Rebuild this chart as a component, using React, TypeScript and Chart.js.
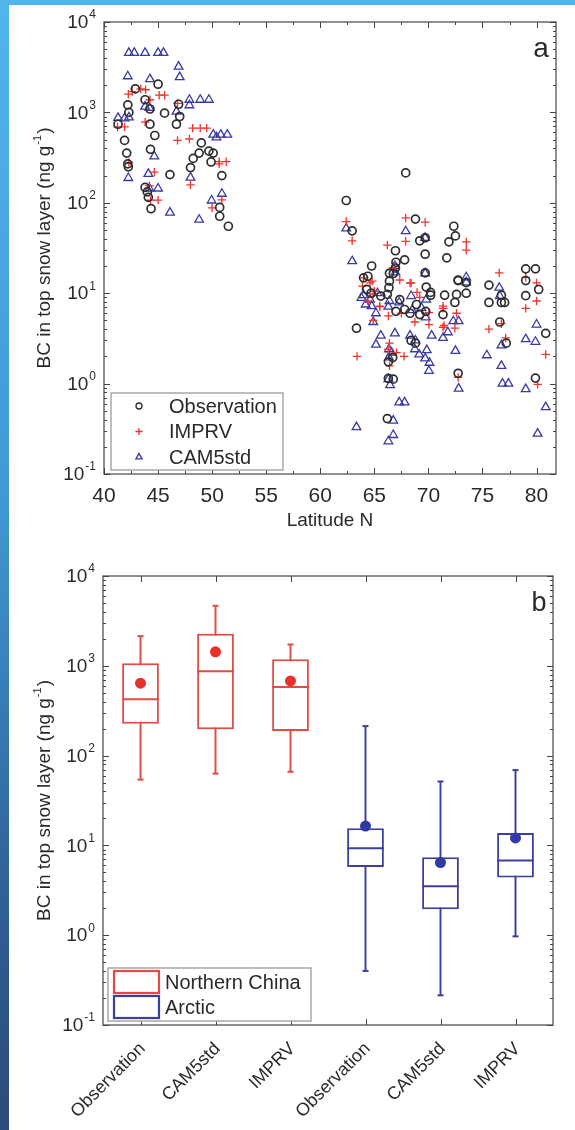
import React, { useEffect, useRef } from 'react';
import { Chart, registerables } from 'chart.js';

Chart.register(...registerables);

const FONT = '"Liberation Sans", Arial, Helvetica, sans-serif';
const TEXT = '#2a2a2a';
const FRAME = '#6a6a6a';
const TICK = '#444444';

// ---------------- Panel a: scatter (latitude, BC ng/g) ----------------
const observation: [number, number][] = [
  [42.9, 1820], [45.0, 2050], [42.2, 1210], [43.8, 1380], [42.3, 1000], [44.25, 1090], [45.6, 980],
  [46.9, 1230], [41.3, 740], [44.25, 740], [46.7, 740], [47.0, 900], [44.7, 555], [41.9, 490],
  [49.0, 460], [42.1, 355], [44.3, 390], [48.8, 355], [48.25, 310], [49.7, 373], [50.1, 355],
  [42.25, 250], [42.2, 270], [48.0, 245], [49.9, 283], [46.1, 205], [50.9, 200], [43.8, 148],
  [44.0, 132], [44.1, 115], [44.35, 86], [50.7, 89], [50.7, 71], [51.5, 55],
  [67.9, 214], [62.4, 106], [62.95, 49], [68.8, 66], [69.2, 38], [66.95, 29.5], [69.7, 41],
  [72.35, 55], [72.5, 43], [71.9, 37], [71.7, 24.6], [69.7, 27], [64.75, 20], [67.0, 22],
  [66.95, 19], [66.75, 16.5], [69.7, 16.8], [64.0, 14.8], [64.4, 15.4], [66.4, 13.6], [66.35, 11.5],
  [69.8, 11.7], [70.2, 10.2], [72.75, 13.8], [73.5, 13.1], [64.3, 11.0], [64.7, 10], [65.6, 9.3],
  [66.2, 9.7], [71.5, 9.5], [72.6, 9.7], [73.5, 10], [70.2, 9.5], [67.35, 8.5], [67.8, 6.6],
  [67.0, 6.3], [68.3, 6.0], [68.9, 7.5], [69.2, 5.8], [69.75, 6.3], [71.35, 5.8], [72.45, 7.9],
  [63.35, 4.1], [68.4, 3.0], [68.8, 2.8], [66.3, 1.74], [66.7, 1.94], [66.3, 1.14], [66.75, 1.12],
  [72.75, 1.3], [66.2, 0.41], [75.6, 12.3], [75.6, 7.9], [76.75, 7.9], [77.05, 7.9], [76.75, 9.5],
  [76.6, 4.8], [77.2, 2.8], [79.0, 18.6], [79.9, 18.6], [79.0, 13.8], [79.0, 9.4], [80.2, 11.0],
  [80.85, 3.6], [79.9, 1.15], [72.75, 14], [66.4, 16.6], [67.8, 23.4]
];

const imprv: [number, number][] = [
  [42.25, 1590], [42.6, 1700], [43.4, 1820], [43.85, 1780], [45.1, 1550], [45.6, 1550], [44.25, 1380],
  [46.8, 1260], [41.25, 690], [41.9, 690], [43.8, 780], [48.2, 670], [48.9, 670], [49.5, 670],
  [46.8, 490], [47.9, 508], [50.65, 285], [51.3, 285], [50.65, 270], [42.3, 280], [44.65, 218],
  [48.0, 158], [44.2, 155], [44.3, 107], [45.0, 107], [50.9, 108], [50.0, 88],
  [62.4, 62], [62.95, 38], [66.2, 34], [67.9, 68], [67.9, 37.5], [69.7, 61], [73.5, 37], [73.5, 30],
  [76.55, 16.8], [79.0, 15], [80.0, 13], [80.0, 8.2], [79.0, 6.8], [64.0, 14.8], [64.6, 13],
  [66.7, 19], [67.35, 14], [68.4, 13], [68.95, 10.2], [65.5, 7.1], [66.3, 5.6], [67.5, 6.0],
  [68.75, 4.8], [70.05, 4.5], [70.05, 6.1], [71.35, 6.8], [71.45, 4.4], [72.45, 4.1], [72.6, 6.0],
  [64.9, 5.0], [64.4, 8.2], [64.8, 13.6], [63.4, 2.0], [66.4, 2.8], [67.05, 2.2], [67.75, 2.0],
  [66.4, 1.57], [72.75, 1.17], [75.6, 4.0], [76.75, 4.6], [77.15, 3.2], [80.1, 0.98], [80.85, 2.1],
  [64.9, 9.8], [65.5, 7.2], [68.3, 12.9], [71.35, 7.2], [71.35, 4.2], [63.9, 12], [65.0, 10.5],
  [69.2, 9], [66.3, 2.4]
];

const cam5std: [number, number][] = [
  [42.3, 4550], [42.8, 4550], [43.8, 4550], [45.0, 4550], [45.5, 4550], [46.9, 3210], [42.2, 2510],
  [47.0, 2460], [44.25, 2330], [43.8, 1160], [44.2, 1120], [47.9, 1380], [47.9, 1200], [48.9, 1380],
  [49.7, 1380], [46.7, 1020], [41.3, 870], [41.9, 860], [42.3, 880], [50.1, 567], [50.8, 567],
  [51.4, 567], [50.4, 530], [44.65, 326], [42.25, 188], [44.1, 209], [48.0, 190], [44.2, 144],
  [45.0, 144], [50.9, 126], [49.95, 106], [46.1, 78], [48.8, 65],
  [62.4, 52], [62.95, 22.6], [67.9, 48.5], [69.7, 41], [66.95, 17], [69.7, 16.6], [73.5, 15],
  [73.5, 13.2], [76.55, 11.5], [63.8, 8.9], [64.6, 8.5], [64.75, 7.2], [64.9, 4.8], [66.4, 8.2],
  [67.3, 7.9], [68.4, 9.3], [69.35, 6.9], [69.75, 5.4], [66.3, 7.1], [65.6, 3.4], [65.15, 2.7],
  [66.9, 3.6], [66.35, 2.4], [66.6, 2.2], [66.35, 1.95], [68.3, 3.4], [68.8, 3.0], [68.75, 2.4],
  [69.15, 2.1], [69.85, 2.35], [69.7, 1.9], [70.1, 1.7], [70.05, 1.38], [70.3, 3.4], [71.35, 3.2],
  [71.8, 3.7], [72.5, 2.3], [72.8, 0.88], [72.3, 4.9], [72.8, 4.9], [66.45, 0.96], [66.3, 1.12],
  [67.3, 0.62], [67.8, 0.62], [66.75, 0.39], [66.75, 0.27], [66.3, 0.23], [63.35, 0.33], [75.4, 2.06],
  [76.75, 2.65], [76.75, 1.57], [76.85, 1.0], [77.4, 1.0], [79.0, 3.1], [80.0, 4.5], [79.9, 2.9],
  [79.0, 0.87], [80.85, 0.55], [80.1, 0.28], [76.6, 9.3], [65.15, 6.0], [64.0, 9.5], [64.2, 7.5],
  [66.9, 20], [68.5, 6.5], [65.3, 10], [69.8, 8.5]
];

const latTicks = [40, 45, 50, 55, 60, 65, 70, 75, 80];
const decadeExps = [-1, 0, 1, 2, 3, 4];
const seriesNames = ['Observation', 'IMPRV', 'CAM5std'];
const seriesColors = ['#2e2e2e', '#f0342c', '#3a3aa6'];
const seriesStyles = ['circle', 'cross', 'triangle'];

// ---------------- Panel b: box plots ----------------
const boxLabels = ['Observation', 'CAM5std', 'IMPRV', 'Observation', 'CAM5std', 'IMPRV'];
const boxRegion = ['Northern China', 'Northern China', 'Northern China', 'Arctic', 'Arctic', 'Arctic'];
const boxLow = [54, 63, 66, 0.4, 0.214, 0.97];
const boxQ1 = [227, 196, 188, 5.75, 1.95, 4.4];
const boxMedian = [424, 870, 582, 9.3, 3.5, 6.8];
const boxQ3 = [1070, 2270, 1186, 15.5, 7.4, 13.7];
const boxHigh = [2140, 4660, 1727, 213, 51.5, 69];
const boxMean = [640, 1430, 679, 16.4, 6.45, 12.1];
const regionNames = ['Northern China', 'Arctic'];
const regionLine = ['#e34a42', '#3d3f9e'];
const regionDot = ['#e8302a', '#2f3ba2'];

// ---------------- drawing helpers ----------------
function font(size: number) {
  return `${size}px ${FONT}`;
}

function powerLabel(ctx: CanvasRenderingContext2D, xRight: number, y: number, exp: string) {
  ctx.font = font(19);
  const wb = ctx.measureText('10').width;
  ctx.font = font(12);
  const we = ctx.measureText(exp).width;
  const x0 = xRight - wb - we - 1;
  ctx.textAlign = 'left';
  ctx.textBaseline = 'middle';
  ctx.font = font(19);
  ctx.fillText('10', x0, y + 1);
  ctx.font = font(12);
  ctx.fillText(exp, x0 + wb + 1, y - 7);
}

function drawLogAxis(ctx: CanvasRenderingContext2D, chart: any) {
  const ys = chart.scales.y;
  const { left, right } = chart.chartArea;
  ctx.save();
  ctx.strokeStyle = TICK;
  ctx.lineWidth = 1;
  ctx.beginPath();
  for (const e of decadeExps) {
    for (let k = 1; k <= 9; k++) {
      const v = k * Math.pow(10, e);
      if (v < ys.min * 0.999 || v > ys.max * 1.001) continue;
      const y = Math.round(ys.getPixelForValue(v)) + 0.5;
      const len = k === 1 ? 6 : 3;
      ctx.moveTo(left, y);
      ctx.lineTo(left + len, y);
      ctx.moveTo(right, y);
      ctx.lineTo(right - len, y);
    }
  }
  ctx.stroke();
  ctx.fillStyle = TEXT;
  for (const e of decadeExps) {
    const y = ys.getPixelForValue(Math.pow(10, e));
    powerLabel(ctx, left - 8, y, String(e));
  }
  ctx.restore();
}

function drawYTitle(ctx: CanvasRenderingContext2D, cx: number, cy: number) {
  const p1 = 'BC in top snow layer (ng g';
  const sup = '-1';
  const p2 = ')';
  ctx.save();
  ctx.translate(cx, cy);
  ctx.rotate(-Math.PI / 2);
  ctx.fillStyle = TEXT;
  ctx.textBaseline = 'middle';
  ctx.textAlign = 'left';
  ctx.font = font(19);
  const w1 = ctx.measureText(p1).width;
  const w3 = ctx.measureText(p2).width;
  ctx.font = font(11);
  const w2 = ctx.measureText(sup).width;
  const start = -(w1 + w2 + w3 + 2) / 2;
  ctx.font = font(19);
  ctx.fillText(p1, start, 0);
  ctx.font = font(11);
  ctx.fillText(sup, start + w1 + 1, -7);
  ctx.font = font(19);
  ctx.fillText(p2, start + w1 + w2 + 2, 0);
  ctx.restore();
}

function drawFrame(ctx: CanvasRenderingContext2D, chart: any) {
  const { left, right, top, bottom } = chart.chartArea;
  ctx.save();
  ctx.strokeStyle = FRAME;
  ctx.lineWidth = 1.5;
  ctx.strokeRect(left, top, right - left, bottom - top);
  ctx.restore();
}

function drawMarker(ctx: CanvasRenderingContext2D, style: string, x: number, y: number, r: number) {
  ctx.beginPath();
  if (style === 'circle') {
    ctx.arc(x, y, r, 0, Math.PI * 2);
  } else if (style === 'cross') {
    ctx.moveTo(x - r, y);
    ctx.lineTo(x + r, y);
    ctx.moveTo(x, y - r);
    ctx.lineTo(x, y + r);
  } else {
    for (let i = 0; i < 3; i++) {
      const a = (i * 2 * Math.PI) / 3;
      const px = x + Math.sin(a) * r;
      const py = y - Math.cos(a) * r;
      if (i === 0) ctx.moveTo(px, py);
      else ctx.lineTo(px, py);
    }
    ctx.closePath();
  }
  ctx.stroke();
}

const panelAPlugin = {
  id: 'panelA',
  afterDraw(chart: any) {
    const ctx: CanvasRenderingContext2D = chart.ctx;
    const { left, right, top, bottom } = chart.chartArea;
    const xs = chart.scales.x;
    drawFrame(ctx, chart);
    // x ticks (major at labels, minor halfway)
    ctx.save();
    ctx.strokeStyle = TICK;
    ctx.lineWidth = 1;
    ctx.beginPath();
    latTicks.forEach((v, i) => {
      const vals = [v];
      if (i < latTicks.length - 1) vals.push((v + latTicks[i + 1]) / 2);
      vals.forEach((t, j) => {
        const x = Math.round(xs.getPixelForValue(t)) + 0.5;
        const len = j === 0 ? 6 : 3;
        ctx.moveTo(x, bottom);
        ctx.lineTo(x, bottom - len);
        ctx.moveTo(x, top);
        ctx.lineTo(x, top + len);
      });
    });
    ctx.stroke();
    ctx.fillStyle = TEXT;
    ctx.font = font(21);
    ctx.textAlign = 'center';
    ctx.textBaseline = 'top';
    latTicks.forEach((v) => {
      ctx.fillText(String(v), xs.getPixelForValue(v), bottom + 12);
    });
    ctx.font = font(19);
    ctx.textBaseline = 'middle';
    ctx.fillText('Latitude N', (left + right) / 2, bottom + 47);
    ctx.restore();

    drawLogAxis(ctx, chart);
    drawYTitle(ctx, 45, (top + bottom) / 2);

    // legend
    ctx.save();
    const lx = left + 7;
    const ly = bottom - 81;
    ctx.fillStyle = '#ffffff';
    ctx.fillRect(lx, ly, 172, 77);
    ctx.strokeStyle = '#a8a8a8';
    ctx.lineWidth = 1.5;
    ctx.strokeRect(lx, ly, 172, 77);
    seriesNames.forEach((name, i) => {
      const y = ly + 13 + i * 25.5;
      ctx.strokeStyle = seriesColors[i];
      ctx.lineWidth = 1.3;
      drawMarker(ctx, seriesStyles[i], lx + 28, y, i === 0 ? 3 : 3.6);
      ctx.fillStyle = TEXT;
      ctx.font = font(20);
      ctx.textAlign = 'left';
      ctx.textBaseline = 'middle';
      ctx.fillText(name, lx + 58, y + 1);
    });
    ctx.font = font(28);
    ctx.textAlign = 'center';
    ctx.textBaseline = 'middle';
    ctx.fillText('a', right - 15, top + 27);
    ctx.restore();
  }
};

const panelBPlugin = {
  id: 'panelB',
  afterDraw(chart: any) {
    const ctx: CanvasRenderingContext2D = chart.ctx;
    const { left, right, top, bottom } = chart.chartArea;
    const xs = chart.scales.x;
    drawFrame(ctx, chart);
    ctx.save();
    ctx.strokeStyle = TICK;
    ctx.lineWidth = 1;
    ctx.beginPath();
    boxLabels.forEach((_, i) => {
      const x = Math.round(xs.getPixelForValue(i)) + 0.5;
      ctx.moveTo(x, bottom);
      ctx.lineTo(x, bottom - 6);
      ctx.moveTo(x, top);
      ctx.lineTo(x, top + 6);
    });
    ctx.stroke();
    ctx.fillStyle = TEXT;
    ctx.font = font(18);
    ctx.textAlign = 'right';
    ctx.textBaseline = 'middle';
    boxLabels.forEach((lab, i) => {
      const x = xs.getPixelForValue(i);
      ctx.save();
      ctx.translate(x + 2, bottom + 21);
      ctx.rotate(-Math.PI / 4);
      ctx.fillText(lab, 0, 0);
      ctx.restore();
    });
    ctx.restore();

    drawLogAxis(ctx, chart);
    drawYTitle(ctx, 45, (top + bottom) / 2);

    // legend
    ctx.save();
    const lx = left + 5;
    const ly = bottom - 57;
    ctx.fillStyle = '#ffffff';
    ctx.fillRect(lx, ly, 203, 53);
    ctx.strokeStyle = '#a8a8a8';
    ctx.lineWidth = 1.5;
    ctx.strokeRect(lx, ly, 203, 53);
    regionNames.forEach((name, i) => {
      const y = ly + 3 + i * 25;
      ctx.strokeStyle = regionLine[i];
      ctx.lineWidth = 2.2;
      ctx.strokeRect(lx + 6, y, 45, 22);
      ctx.fillStyle = TEXT;
      ctx.font = font(20);
      ctx.textAlign = 'left';
      ctx.textBaseline = 'middle';
      ctx.fillText(name, lx + 57, y + 12);
    });
    ctx.font = font(27);
    ctx.textAlign = 'center';
    ctx.textBaseline = 'middle';
    ctx.fillText('b', right - 14, top + 28);
    ctx.restore();
  }
};

export default function App() {
  const refA = useRef<HTMLCanvasElement>(null);
  const refB = useRef<HTMLCanvasElement>(null);

  useEffect(() => {
    const scatterSets = [observation, imprv, cam5std].map((arr, i) => ({
      label: seriesNames[i],
      data: arr.map(([x, y]) => ({ x, y })),
      pointStyle: seriesStyles[i],
      pointRadius: i === 0 ? 4 : i === 1 ? 4.2 : 5,
      pointBorderWidth: i === 0 ? 1.7 : 1.3,
      pointBorderColor: seriesColors[i],
      pointBackgroundColor: 'rgba(0,0,0,0)',
      borderColor: seriesColors[i],
      backgroundColor: 'rgba(0,0,0,0)',
      showLine: false
    }));

    const chartA = new Chart(refA.current as HTMLCanvasElement, {
      type: 'scatter',
      data: { datasets: scatterSets as any },
      options: {
        animation: false,
        responsive: false,
        events: [],
        layout: { padding: { left: 104, right: 19, top: 22, bottom: 71 } },
        plugins: { legend: { display: false }, tooltip: { enabled: false } },
        scales: {
          x: { type: 'linear', min: 40, max: 81.8, display: false },
          y: { type: 'logarithmic', min: 0.1, max: 10000, display: false }
        }
      } as any,
      plugins: [panelAPlugin]
    });

    const lineCol = boxRegion.map((r) => regionLine[regionNames.indexOf(r)]);
    const dotCol = boxRegion.map((r) => regionDot[regionNames.indexOf(r)]);
    const pointSet = (label: string, data: number[], style: string, radius: number) => ({
      type: 'line',
      label,
      data,
      showLine: false,
      pointStyle: style,
      pointRadius: radius,
      pointBorderColor: lineCol,
      pointBackgroundColor: lineCol,
      pointBorderWidth: 2
    });

    const chartB = new Chart(refB.current as HTMLCanvasElement, {
      type: 'bar',
      data: {
        labels: boxLabels,
        datasets: [
          {
            type: 'line',
            label: 'Mean',
            data: boxMean,
            showLine: false,
            pointStyle: 'circle',
            pointRadius: 5.5,
            pointBackgroundColor: dotCol,
            pointBorderColor: dotCol,
            pointBorderWidth: 0
          },
          pointSet('Median', boxMedian, 'line', 18.3),
          pointSet('Max', boxHigh, 'line', 3),
          pointSet('Min', boxLow, 'line', 3),
          {
            type: 'bar',
            label: 'Interquartile',
            data: boxQ1.map((q, i) => [q, boxQ3[i]]),
            backgroundColor: '#ffffff',
            borderColor: lineCol,
            borderWidth: 2,
            borderSkipped: false,
            grouped: false,
            barPercentage: 0.49,
            categoryPercentage: 1
          },
          {
            type: 'bar',
            label: 'Whisker',
            data: boxLow.map((l, i) => [l, boxHigh[i]]),
            backgroundColor: lineCol,
            borderWidth: 0,
            grouped: false,
            barPercentage: 0.026,
            categoryPercentage: 1
          }
        ] as any
      },
      options: {
        animation: false,
        responsive: false,
        events: [],
        layout: { padding: { left: 103, right: 22, top: 31, bottom: 105 } },
        plugins: { legend: { display: false }, tooltip: { enabled: false } },
        scales: {
          x: { type: 'category', offset: true, display: false },
          y: { type: 'logarithmic', min: 0.1, max: 10000, display: false }
        }
      } as any,
      plugins: [panelBPlugin]
    });

    return () => {
      chartA.destroy();
      chartB.destroy();
    };
  }, []);

  return (
    <div
      style={{
        position: 'absolute',
        left: 0,
        top: 0,
        width: 575,
        height: 1130,
        overflow: 'hidden',
        background: 'linear-gradient(to bottom, #52b5ec 0%, #4098d2 45%, #2f5f95 80%, #2c4b78 100%)'
      }}
    >
      <div style={{ position: 'absolute', left: 9, top: 5, width: 566, height: 1125, background: '#ffffff' }} />
      <canvas ref={refA} width={575} height={545} style={{ position: 'absolute', left: 0, top: 0 }} />
      <canvas ref={refB} width={575} height={585} style={{ position: 'absolute', left: 0, top: 545 }} />
    </div>
  );
}
